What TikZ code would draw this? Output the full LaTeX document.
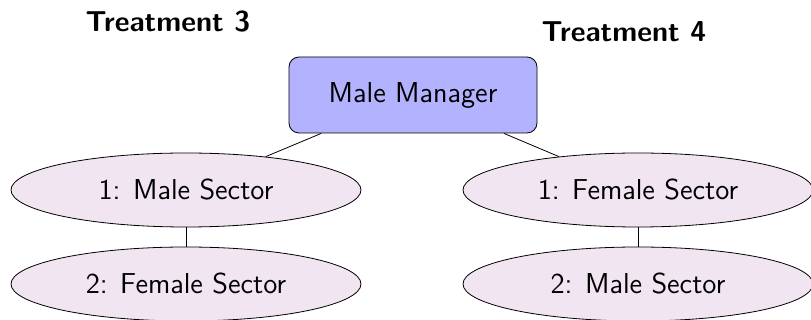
\documentclass[tikz,border=0pt]{standalone}
\usetikzlibrary{shapes.geometric}
\begin{document}
\begin{tikzpicture}[
                    x=0.5pt, y=-0.5pt,
                    font=\Large\sffamily,
                    boss/.style={draw, rounded corners=5pt, fill=blue!30,
                                 minimum width=124pt, minimum height=38pt},
                    sector/.style={draw, ellipse, fill=violet!10,
                                   minimum width=175pt, minimum height=37pt},
                    heading/.style={font=\Large\sffamily\bfseries}
                ]
                \useasboundingbox (0,0) rectangle (811,320);

                \node[heading] (t3) at (168,22) {Treatment 3};
                \node[heading] (t4) at (624,32) {Treatment 4};

                \node[boss] (mgr) at (413,95) {Male Manager};

                \node[sector] (l1) at (186,190) {1:  Male Sector};
                \node[sector] (l2) at (186,284) {2:  Female Sector};
                \node[sector] (r1) at (638,190) {1:  Female Sector};
                \node[sector] (r2) at (638,284) {2:  Male Sector};

                \draw (mgr) -- (l1);
                \draw (mgr) -- (r1);
                \draw (l1)  -- (l2);
                \draw (r1)  -- (r2);

            \end{tikzpicture}
\end{document}
